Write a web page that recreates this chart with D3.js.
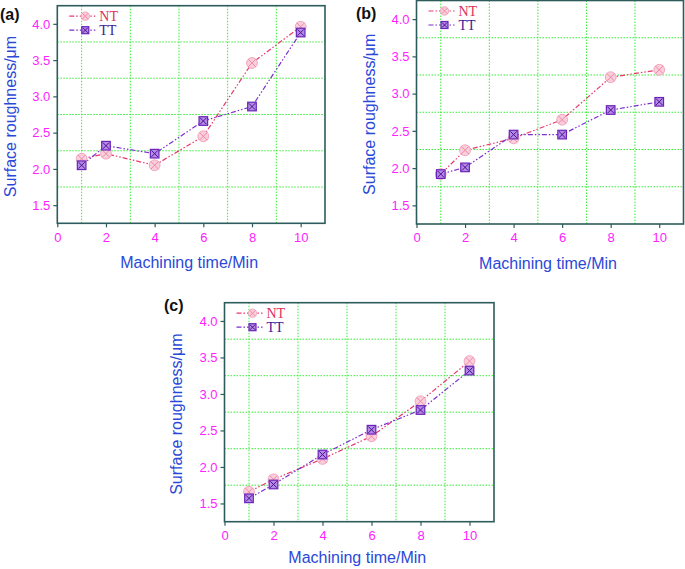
<!DOCTYPE html>
<html><head><meta charset="utf-8">
<script src="https://cdn.jsdelivr.net/npm/d3@7"></script>
<style>body{margin:0;background:#fff}svg{display:block}</style>
</head><body>
<script>
const times = [1, 2, 4, 6, 8, 10];
const xTicks = [0, 2, 4, 6, 8, 10];
const yTicks = [1.5, 2.0, 2.5, 3.0, 3.5, 4.0];
const xGrid = [1, 3, 5, 7, 9];
const yGrid = [1.75, 2.25, 2.75, 3.25, 3.75];
const panelLabels = ["(a)", "(b)", "(c)"];
const seriesNames = ["NT", "TT"];
const ntA = [2.14, 2.21, 2.05, 2.45, 3.46, 3.96];
const ttA = [2.05, 2.32, 2.21, 2.66, 2.86, 3.88];
const ntB = [1.92, 2.24, 2.40, 2.65, 3.22, 3.32];
const ttB = [1.92, 2.01, 2.45, 2.45, 2.78, 2.89];
const ntC = [1.66, 1.83, 2.11, 2.42, 2.90, 3.45];
const ttC = [1.57, 1.76, 2.17, 2.51, 2.78, 3.32];
const xTitle = "Machining time/Min";
const yTitle = "Surface roughness/\u03bcm";

const W = 685, H = 569;
const svg = d3.select("body").append("svg").attr("width", W).attr("height", H);

const panels = [
  {label: panelLabels[0], nt: ntA, tt: ttA, l: 57.3, t: 5.7, r: 325, b: 223.3, lx: 0, ly: 20, ytx: 10, xto: 45},
  {label: panelLabels[1], nt: ntB, tt: ttB, l: 416.5, t: 0.5, r: 683.5, b: 224, lx: 356, ly: 19, ytx: 369, xto: 45},
  {label: panelLabels[2], nt: ntC, tt: ttC, l: 224.5, t: 302.7, r: 494, b: 521.7, lx: 164, ly: 311, ytx: 176, xto: 41}
];

const frameCol = "#2e5c5c", gridCol = "#33ee33", tickCol = "#ff22ff", titleCol = "#2a48d8";
const ntLine = "#e8386a", ttLine = "#7a2ed0";
const dash = "5,2,1.5,2,1.5,2";
const sans = "Liberation Sans, Arial, sans-serif";

function ntMarker(g, x, y, r) {
  g.append("circle").attr("cx", x).attr("cy", y).attr("r", r)
    .attr("fill", "#f9cfdc").attr("stroke", "#f3a6bf").attr("stroke-width", 1);
  const d = r * 0.72;
  g.append("path").attr("d", `M${x-d},${y-d}L${x+d},${y+d}M${x-d},${y+d}L${x+d},${y-d}`)
    .attr("stroke", "#f08aa8").attr("stroke-width", 1);
}
function ttMarker(g, x, y, s) {
  g.append("rect").attr("x", x - s).attr("y", y - s).attr("width", 2*s).attr("height", 2*s)
    .attr("fill", "#b58ae6").attr("stroke", "#6a24b8").attr("stroke-width", 1.2);
  const d = s * 0.75;
  g.append("path").attr("d", `M${x-d},${y-d}L${x+d},${y+d}M${x-d},${y+d}L${x+d},${y-d}`)
    .attr("stroke", "#4a1490").attr("stroke-width", 1);
}

panels.forEach(p => {
  const g = svg.append("g");
  const x = d3.scaleLinear().domain([0, 11]).range([p.l, p.r]);
  const y = d3.scaleLinear().domain([1.25, 4.25]).range([p.b, p.t]);

  g.selectAll(null).data(xGrid).enter().append("line")
    .attr("x1", d => x(d)).attr("x2", d => x(d)).attr("y1", p.t).attr("y2", p.b)
    .attr("stroke", gridCol).attr("stroke-width", 1).attr("stroke-dasharray", "1.5,1.5");
  g.selectAll(null).data(yGrid).enter().append("line")
    .attr("y1", d => y(d)).attr("y2", d => y(d)).attr("x1", p.l).attr("x2", p.r)
    .attr("stroke", gridCol).attr("stroke-width", 1).attr("stroke-dasharray", "1.5,1.5");

  g.append("rect").attr("x", p.l).attr("y", p.t).attr("width", p.r - p.l).attr("height", p.b - p.t)
    .attr("fill", "none").attr("stroke", frameCol).attr("stroke-width", 1.6);

  const ya = g.append("g").attr("transform", `translate(${p.l},0)`)
    .call(d3.axisLeft(y).tickValues(yTicks).tickFormat(d3.format(".1f")).tickSize(4).tickPadding(3));
  ya.select(".domain").remove();
  ya.selectAll("line").attr("stroke", frameCol).attr("stroke-width", 1.2);
  ya.selectAll("text").attr("fill", tickCol).attr("font-family", sans).attr("font-size", 13);
  const xa = g.append("g").attr("transform", `translate(0,${p.b})`)
    .call(d3.axisBottom(x).tickValues(xTicks).tickFormat(d3.format("d")).tickSize(4).tickPadding(5));
  xa.select(".domain").remove();
  xa.selectAll("line").attr("stroke", frameCol).attr("stroke-width", 1.2);
  xa.selectAll("text").attr("fill", tickCol).attr("font-family", sans).attr("font-size", 13);

  g.append("text").attr("x", (p.l + p.r) / 2 - 2).attr("y", p.b + p.xto)
    .attr("text-anchor", "middle").attr("fill", titleCol)
    .attr("font-family", sans).attr("font-size", 16).text(xTitle);
  g.append("text").attr("transform", `translate(${p.ytx},${(p.t + p.b) / 2 + 2}) rotate(-90)`)
    .attr("text-anchor", "middle").attr("dominant-baseline", "central").attr("fill", titleCol)
    .attr("font-family", sans).attr("font-size", 16).text(yTitle);
  g.append("text").attr("x", p.lx).attr("y", p.ly).attr("fill", "#111").attr("font-weight", "bold")
    .attr("font-family", sans).attr("font-size", 16).text(p.label);

  const line = d3.line().x((d, i) => x(times[i])).y(d => y(d));
  g.append("path").datum(p.nt).attr("d", line).attr("fill", "none")
    .attr("stroke", ntLine).attr("stroke-width", 1.2).attr("stroke-dasharray", dash);
  g.append("path").datum(p.tt).attr("d", line).attr("fill", "none")
    .attr("stroke", ttLine).attr("stroke-width", 1.2).attr("stroke-dasharray", dash);
  p.nt.forEach((v, i) => ntMarker(g, x(times[i]), y(v), 5.4));
  p.tt.forEach((v, i) => ttMarker(g, x(times[i]), y(v), 4.3));

  const lgx = p.l + 12, lgy1 = p.t + 10.5, lgy2 = p.t + 24.5;
  g.append("line").attr("x1", lgx).attr("x2", lgx + 28).attr("y1", lgy1).attr("y2", lgy1)
    .attr("stroke", ntLine).attr("stroke-width", 1.2).attr("stroke-dasharray", dash);
  ntMarker(g, lgx + 16, lgy1, 4.2);
  g.append("line").attr("x1", lgx).attr("x2", lgx + 28).attr("y1", lgy2).attr("y2", lgy2)
    .attr("stroke", ttLine).attr("stroke-width", 1.2).attr("stroke-dasharray", dash);
  ttMarker(g, lgx + 16, lgy2, 3.5);
  g.append("text").attr("x", lgx + 30).attr("y", lgy1 + 5).attr("fill", "#e0305a")
    .attr("font-family", "Liberation Serif, Times New Roman, serif").attr("font-size", 14).text(seriesNames[0]);
  g.append("text").attr("x", lgx + 30).attr("y", lgy2 + 5).attr("fill", "#3a1a9a")
    .attr("font-family", "Liberation Serif, Times New Roman, serif").attr("font-size", 14).text(seriesNames[1]);
});
</script>
</body></html>
